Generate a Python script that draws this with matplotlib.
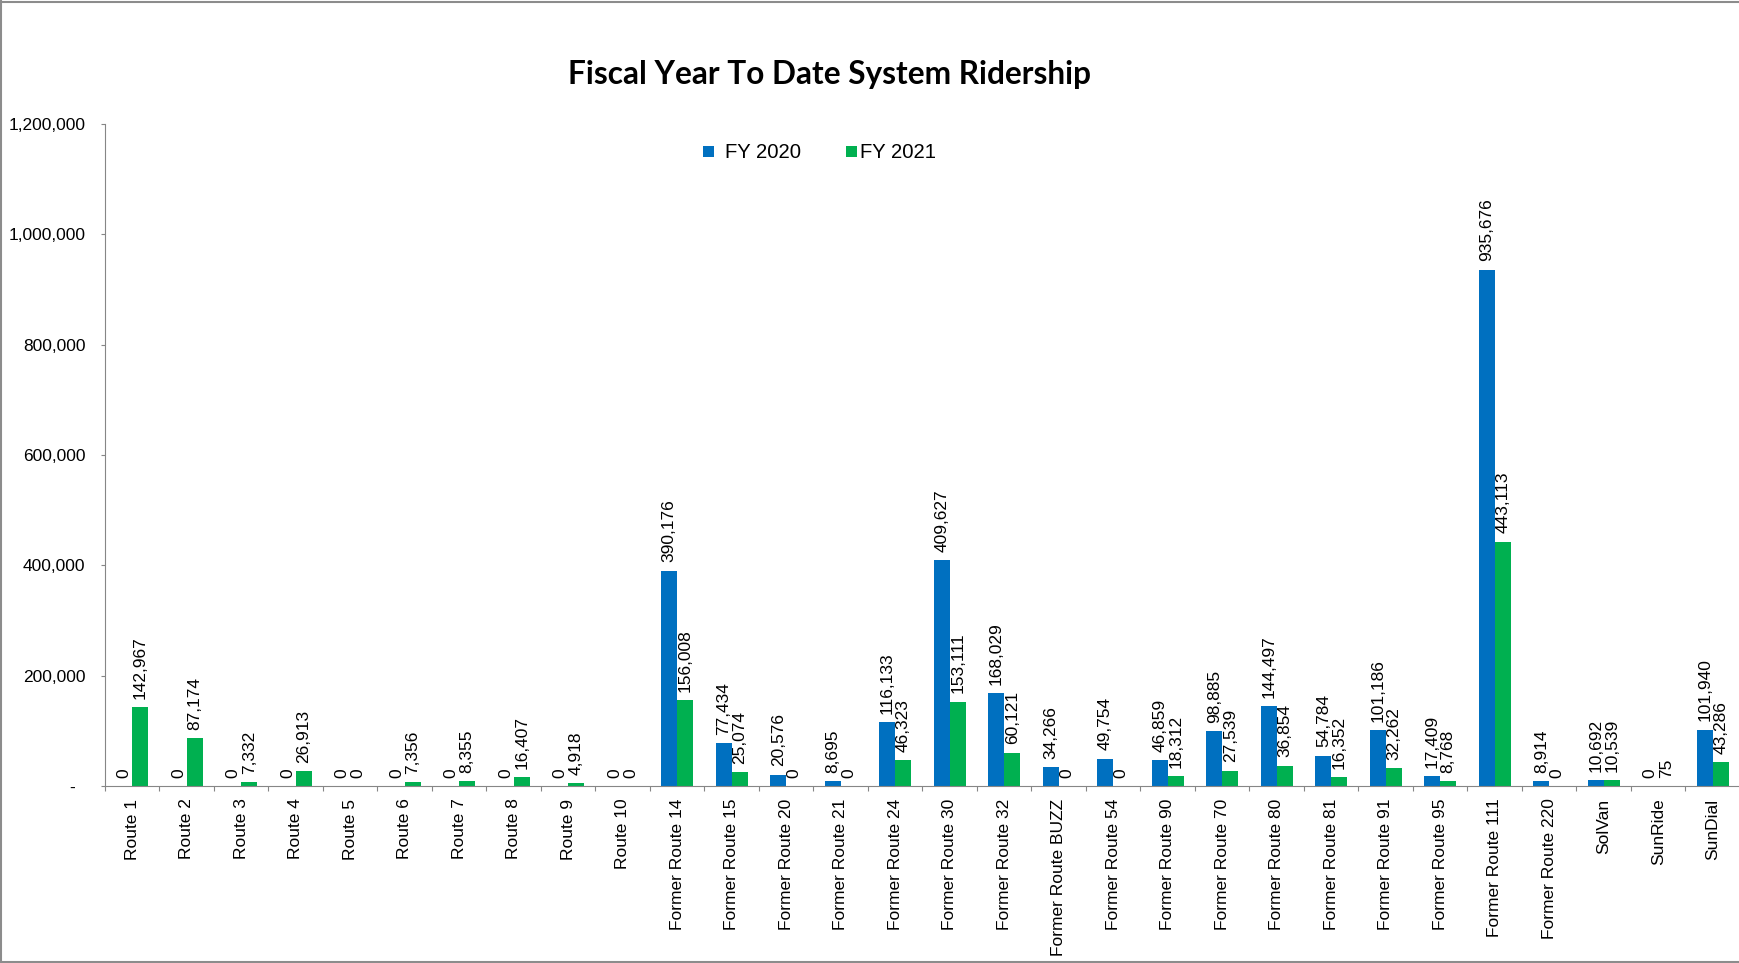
import matplotlib.pyplot as plt
import numpy as np
from matplotlib.lines import Line2D
from matplotlib.patches import Rectangle
from matplotlib.ticker import FuncFormatter

plt.rcParams['font.family'] = ['Liberation Sans', 'DejaVu Sans']

routes = ['Route 1', 'Route 2', 'Route 3', 'Route 4', 'Route 5', 'Route 6',
          'Route 7', 'Route 8', 'Route 9', 'Route 10',
          'Former Route 14', 'Former Route 15', 'Former Route 20',
          'Former Route 21', 'Former Route 24', 'Former Route 30',
          'Former Route 32', 'Former Route BUZZ', 'Former Route 54',
          'Former Route 90', 'Former Route 70', 'Former Route 80',
          'Former Route 81', 'Former Route 91', 'Former Route 95',
          'Former Route 111', 'Former Route 220', 'SolVan', 'SunRide', 'SunDial']
fy2020 = [0, 0, 0, 0, 0, 0, 0, 0, 0, 0,
          390176, 77434, 20576, 8695, 116133, 409627, 168029, 34266, 49754,
          46859, 98885, 144497, 54784, 101186, 17409, 935676, 8914,
          10692, 0, 101940]
fy2021 = [142967, 87174, 7332, 26913, 0, 7356, 8355, 16407, 4918, 0,
          156008, 25074, 0, 0, 46323, 153111, 60121, 0, 0,
          18312, 27539, 36854, 16352, 32262, 8768, 443113, 0,
          10539, 75, 43286]

blue = '#0070C0'
green = '#00B050'
grey = '#868686'
W, H = 1740, 963

fig = plt.figure(figsize=(W / 100, H / 100), dpi=100)
ax = fig.add_axes([105 / W, 1 - 786 / H, 1 - 105 / W, (786 - 124) / H])

x = np.arange(len(routes))
w = 0.29
b1 = ax.bar(x - w / 2, fy2020, w, color=blue, label='FY 2020')
b2 = ax.bar(x + w / 2, fy2021, w, color=green, label='FY 2021')

# value labels, written upward above each bar
for bars, vals in ((b1, fy2020), (b2, fy2021)):
    for rect, v in zip(bars, vals):
        ax.annotate(f'{v:,}', (rect.get_x() + rect.get_width() / 2, v),
                    xytext=(0, 6), textcoords='offset points',
                    rotation=90, ha='center', va='bottom', fontsize=12.5)

ax.set_xlim(-0.5, len(routes) - 0.5)
ax.set_ylim(0, 1200000)
ax.set_yticks(np.arange(0, 1200001, 200000))
ax.yaxis.set_major_formatter(FuncFormatter(lambda v, p: '-  ' if v == 0 else f'{int(v):,}'))

ax.set_xticks(x)
ax.set_xticklabels(routes, rotation=90, va='top', ha='center')
ax.set_xticks(np.arange(-0.5, len(routes)), minor=True)
ax.tick_params(axis='x', which='major', length=0, pad=9, labelsize=12.5)
ax.tick_params(axis='x', which='minor', length=3.6, color=grey, width=0.8)
ax.tick_params(axis='y', length=3, color=grey, width=0.8, pad=11, labelsize=12.5)

for s in ('top', 'right'):
    ax.spines[s].set_visible(False)
for s in ('left', 'bottom'):
    ax.spines[s].set_color(grey)
    ax.spines[s].set_linewidth(0.8)

fig.text(830 / W, 1 - 84 / H, 'Fiscal Year To Date System Ridership',
         ha='center', va='baseline', fontsize=22.8, fontweight='bold',
         family=['Lato', 'DejaVu Sans'])

# legend: small squares with series names
for x0, txt_x, col, name in ((703, 725, blue, 'FY 2020'), (846, 860, green, 'FY 2021')):
    fig.add_artist(Rectangle((x0 / W, 1 - 157 / H), 11 / W, 11 / H,
                             transform=fig.transFigure, color=col, lw=0))
    fig.text(txt_x / W, 1 - 157.5 / H, name, ha='left', va='baseline', fontsize=14.6)

# chart frame
for xs, ys in (([0.0006, 0.0006], [0, 1]), ([0, 1], [0.998, 0.998]), ([0, 1], [0.0015, 0.0015])):
    fig.add_artist(Line2D(xs, ys, transform=fig.transFigure, color='#8c8c8c', lw=1.5))

fig.savefig('out.png', dpi=100)
